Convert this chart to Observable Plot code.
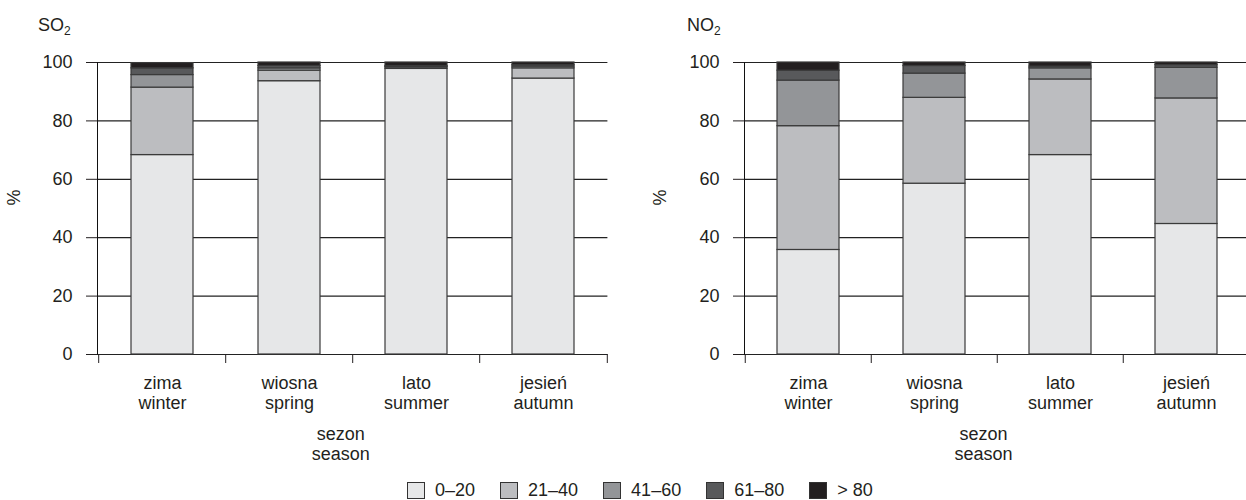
<!DOCTYPE html>
<html><head><meta charset="utf-8">
<script src="https://cdn.jsdelivr.net/npm/d3@7"></script>
<script src="https://cdn.jsdelivr.net/npm/@observablehq/plot@0.6"></script>
<style>
body{margin:0;background:#fff;font-family:"Liberation Sans",Arial,sans-serif;color:#231f20;}
#wrap{position:relative;width:1246px;height:500px;overflow:hidden;}
.panel{position:absolute;top:0;}
.panel svg{max-width:none !important;}
.title{position:absolute;font-size:18px;line-height:20px;top:15px;}
.title sub{font-size:12px;vertical-align:-4px;line-height:0;}
#legend{position:absolute;top:481px;left:407px;display:flex;align-items:center;font-size:18px;line-height:18px;}
.item{display:flex;align-items:center;margin-right:25px;}
.sw{width:18px;height:17px;border:1px solid #333;box-sizing:border-box;margin-right:10px;}
</style>
</head><body>
<div id="wrap">
  <div class="panel" id="left" style="left:0;width:623px"></div>
  <div class="panel" id="right" style="left:623px;width:640px"></div>
  <div class="title" style="left:38px">SO<sub>2</sub></div>
  <div class="title" style="left:687px">NO<sub>2</sub></div>
  <div id="legend"></div>
</div>
<script>
const seasonsPl = ["zima", "wiosna", "lato", "jesień"];
const seasonsEn = ["winter", "spring", "summer", "autumn"];
const classes = ["0–20", "21–40", "41–60", "61–80", "> 80"];
const fills = ["#e6e7e8", "#bcbdc0", "#939598", "#58595b", "#231f20"];
const yTicks = [0, 20, 40, 60, 80, 100];

// SO2 — share (%) of each concentration class per season
const so2_0_20  = [68.3, 93.6, 97.8, 94.5];
const so2_21_40 = [23.1, 3.6, 0.5, 3.5];
const so2_41_60 = [4.3, 0.8, 0.2, 0.6];
const so2_61_80 = [2.3, 0.8, 0.3, 0.5];
const so2_gt80  = [1.8, 1.2, 1.2, 0.9];

// NO2
const no2_0_20  = [35.8, 58.5, 68.3, 44.7];
const no2_21_40 = [42.4, 29.4, 25.9, 43.0];
const no2_41_60 = [15.6, 8.3, 3.8, 10.5];
const no2_61_80 = [3.4, 2.6, 0.6, 0.9];
const no2_gt80  = [2.8, 1.2, 1.4, 0.9];

function rows(cols) {
  const out = [];
  seasonsPl.forEach((s, i) => classes.forEach((c, k) => out.push({season: s, cls: c, value: cols[k][i]})));
  return out;
}

function chart(data, {width, marginLeft, marginRight, labelDx, pctDx}) {
  const step = (width - marginLeft - marginRight) / seasonsPl.length;
  return Plot.plot({
    width, height: 470,
    marginTop: 62, marginBottom: 116, marginLeft, marginRight,
    style: {fontFamily: "'Liberation Sans', Arial, sans-serif", fontSize: "18px", color: "#231f20", background: "white", overflow: "visible", maxWidth: "none"},
    x: {domain: seasonsPl, paddingInner: 0.51, paddingOuter: 0.255, axis: null},
    y: {domain: [0, 100], axis: null},
    color: {domain: classes, range: fills},
    marks: [
      Plot.ruleY(yTicks, {stroke: "#222", strokeWidth: 1.2}),
      Plot.barY(data, {x: "season", y: "value", fill: "cls", stroke: "#3a3a3a", strokeWidth: 1.2}),
      Plot.frame({anchor: "left", stroke: "#111"}),
      Plot.axisY({ticks: yTicks, tickSize: 11, tickPadding: 14, label: null}),
      Plot.axisX({tickSize: 0, tickPadding: 20, lineHeight: 1.12, label: null,
        tickFormat: d => d + "\n" + seasonsEn[seasonsPl.indexOf(d)]}),
      Plot.axisX({tickSize: 9, tickFormat: () => "", dx: -step / 2, label: null}),
      Plot.axisX({ticks: [seasonsPl[seasonsPl.length - 1]], tickSize: 9, tickFormat: () => "", dx: step / 2, label: null}),
      Plot.text(["sezon\nseason"], {frameAnchor: "bottom", lineAnchor: "top", dy: 71, dx: labelDx, lineHeight: 1.12}),
      Plot.text(["%"], {frameAnchor: "left", rotate: -90, dx: pctDx, dy: -3})
    ]
  });
}

document.getElementById("left").append(chart(rows([so2_0_20, so2_21_40, so2_41_60, so2_61_80, so2_gt80]),
  {width: 623, marginLeft: 97, marginRight: 15.6, labelDx: -12, pctDx: -83}));
document.getElementById("right").append(chart(rows([no2_0_20, no2_21_40, no2_41_60, no2_61_80, no2_gt80]),
  {width: 640, marginLeft: 121, marginRight: 13, labelDx: -14, pctDx: -84}));

const legend = document.getElementById("legend");
classes.forEach((c, i) => {
  const item = document.createElement("div");
  item.className = "item";
  const sw = document.createElement("div");
  sw.className = "sw";
  sw.style.background = fills[i];
  const t = document.createElement("span");
  t.textContent = c;
  item.append(sw, t);
  legend.append(item);
});
</script>
</body></html>
